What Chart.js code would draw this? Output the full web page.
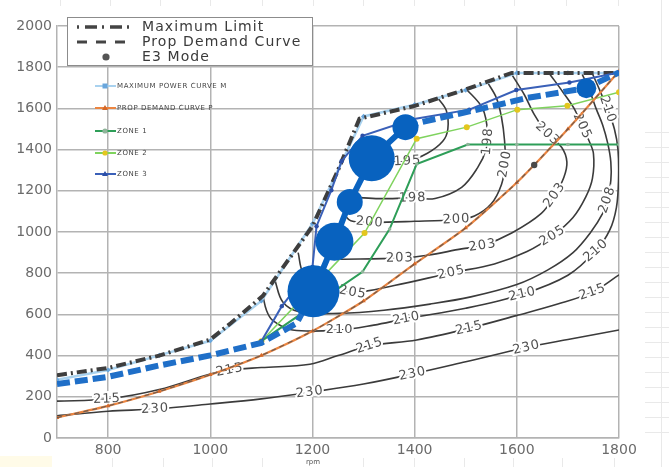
<!DOCTYPE html>
<html>
<head>
<meta charset="utf-8">
<script src="https://cdn.jsdelivr.net/npm/chart.js@4.4.1/dist/chart.umd.min.js"></script>
<style>
  html, body { margin: 0; padding: 0; background: #fff; }
  #wrap { width: 669px; height: 467px; position: relative; }
</style>
</head>
<body>
<div id="wrap"><canvas id="c" width="669" height="467"></canvas></div>
<script>
// Axis ticks
const xTicks = [800, 1000, 1200, 1400, 1600, 1800];
const yTicks = [0, 200, 400, 600, 800, 1000, 1200, 1400, 1600, 1800, 2000];

// Engine limit and demand curves [rpm, kW]
const maxLimit = [[700,305],[800,340],[900,400],[1000,478],[1040,557],[1103,690],[1150,855],[1200,1028],[1250,1300],[1292,1550],[1400,1612],[1500,1692],[1590,1772],[1700,1772],[1800,1772]];
const maxPowerM = [[700,283],[800,330],[900,401],[1000,472],[1100,665],[1200,1040],[1300,1561],[1400,1618],[1500,1689],[1600,1772],[1700,1772],[1800,1772]];
const propDemand = [[700,99],[800,156],[900,226],[1000,307],[1100,401],[1200,519],[1300,665],[1400,845],[1500,1020],[1600,1240],[1700,1500],[1800,1780]];

// Operating zones
const zone1 = [[1100,470],[1200,640],[1298,807],[1351,1014],[1404,1330],[1504,1425],[1600,1425],[1700,1425],[1800,1425]];
const zone2 = [[1100,470],[1200,730],[1302,995],[1404,1453],[1502,1509],[1601,1594],[1699,1613],[1800,1679]];
const zone3 = [[1100,470],[1140,640],[1200,830],[1208,1028],[1237,1203],[1257,1344],[1298,1467],[1396,1547],[1507,1594],[1599,1689],[1703,1726],[1800,1774]];

// Operating line (low and high branches)
const operatingLow = [[700,262],[800,297],[900,352],[1000,401],[1100,462],[1169,557],[1202,712]];
const operatingHigh = [[1382,1509],[1413,1533],[1470,1565],[1523,1594],[1621,1651],[1734,1698],[1800,1774]];

// E3 mode points
const e3Rpm   = [1202, 1243, 1273, 1316, 1382, 1736];
const e3Power = [712, 953, 1146, 1358, 1509, 1698];
const e3Size  = [26, 19, 13, 23, 13, 10];
const e3Marker = [[1634, 1325]];

// BSFC contours [rpm, kW]
const bsfc195 = [[1340,1338],[1386,1344],[1425,1382],[1455,1440],[1465,1500],[1462,1590],[1445,1652]];
const bsfc198 = [[1285,1168],[1330,1162],[1396,1165],[1440,1163],[1492,1217],[1523,1311],[1540,1400],[1543,1480],[1533,1600],[1500,1697]];
const bsfc200 = [[1262,1085],[1275,1055],[1312,1047],[1400,1052],[1482,1061],[1517,1078],[1550,1137],[1570,1231],[1577,1330],[1576,1443],[1570,1557],[1560,1651],[1543,1725]];
const bsfc203 = [[1253,868],[1371,873],[1425,887],[1492,918],[1533,934],[1590,995],[1648,1090],[1674,1179],[1692,1265],[1698,1340],[1688,1410],[1660,1476],[1634,1571],[1615,1665],[1590,1765]];
const bsfc205 = [[1172,900],[1182,800],[1215,735],[1279,707],[1360,740],[1472,802],[1556,845],[1620,905],[1670,981],[1710,1070],[1735,1170],[1748,1260],[1750,1380],[1740,1450],[1728,1514],[1712,1600],[1690,1680],[1665,1765]];
const bsfc208 = [[1126,770],[1142,660],[1175,612],[1253,605],[1340,620],[1430,650],[1510,685],[1600,745],[1660,815],[1710,900],[1745,1000],[1768,1090],[1777,1156],[1784,1250],[1784,1340],[1778,1430],[1768,1520],[1755,1600],[1742,1690],[1728,1765]];
const bsfc210 = [[1103,690],[1110,620],[1122,571],[1161,524],[1253,524],[1320,548],[1384,580],[1500,630],[1611,698],[1700,790],[1755,910],[1782,1010],[1795,1120],[1799,1250],[1798,1400],[1791,1500],[1778,1594],[1762,1690],[1748,1768]];
const bsfc215 = [[700,179],[798,189],[900,235],[1000,311],[1038,330],[1100,342],[1195,358],[1250,400],[1312,448],[1404,476],[1507,533],[1599,594],[1680,650],[1748,708],[1800,792]];
const bsfc230 = [[700,108],[800,130],[892,141],[1000,165],[1100,190],[1195,222],[1300,262],[1396,311],[1500,370],[1619,439],[1700,478],[1800,524]];

// Contour labels [text, rpm, kW]
const contourLabels = [
  ['230',892,141],['230',1195,222],['230',1396,311],['230',1619,439],
  ['215',798,189],['215',1038,330],['215',1312,448],['215',1507,533],['215',1748,708],
  ['210',1253,524],['210',1384,580],['210',1611,698],['210',1755,910],['210',1778,1594],
  ['208',1777,1156],
  ['205',1279,707],['205',1472,802],['205',1670,981],['205',1728,1514],
  ['203',1371,873],['203',1533,934],['203',1674,1179],['203',1660,1476],
  ['200',1312,1047],['200',1482,1061],['200',1577,1330],
  ['198',1396,1165],['198',1543,1440],
  ['195',1386,1344]
];

const pts = a => a.map(p => ({ x: p[0], y: p[1] }));

function contour(level, arr) {
  return {
    level, data: pts(arr), showLine: true, borderColor: '#3b3b3b', borderWidth: 1.6,
    pointRadius: 0, tension: 0.35, fill: false, order: 10
  };
}

const datasets = [
  contour('195', bsfc195), contour('198', bsfc198), contour('200', bsfc200),
  contour('203', bsfc203), contour('205', bsfc205), contour('208', bsfc208),
  contour('210', bsfc210), contour('215', bsfc215), contour('230', bsfc230),
  { data: pts(zone1), showLine: true, borderColor: '#2e9e58', borderWidth: 2, pointRadius: 1.8,
    pointBackgroundColor: '#8fb59a', pointBorderWidth: 0, tension: 0, order: 8 },
  { data: pts(zone2), showLine: true, borderColor: '#7fd35e', borderWidth: 1.5, pointRadius: 3,
    pointBackgroundColor: '#e4c61e', pointBorderWidth: 0, tension: 0, order: 8 },
  { data: pts(propDemand), showLine: true, borderColor: '#ec8540', borderWidth: 2.2, pointRadius: 2.6,
    pointStyle: 'triangle', pointBackgroundColor: '#d4692a', pointBorderWidth: 0, tension: 0.2, order: 7 },
  { data: pts(propDemand), showLine: true, borderColor: 'rgba(80,80,80,0.75)', borderWidth: 1.3,
    borderDash: [5, 4], pointRadius: 0, tension: 0.2, order: 6 },
  { data: pts(maxPowerM), showLine: true, borderColor: '#a9d2ef', borderWidth: 2.5, pointRadius: 2.6,
    pointStyle: 'rectRot', pointBackgroundColor: '#69a6dc', pointBorderWidth: 0, tension: 0, order: 5 },
  { data: pts(maxLimit), showLine: true, borderColor: '#3e3e3e', borderWidth: 4,
    borderDash: [10, 4, 2, 4], pointRadius: 0, tension: 0, order: 4 },
  { data: pts(zone3), showLine: true, borderColor: '#3a60b8', borderWidth: 2, pointRadius: 2.2,
    pointBackgroundColor: '#2c4fa8', pointBorderWidth: 0, tension: 0, order: 3 },
  { data: pts(operatingLow), showLine: true, borderColor: '#1f6fc8', borderWidth: 6,
    borderDash: [13, 5], pointRadius: 0, tension: 0, order: 2 },
  { data: pts(operatingHigh), showLine: true, borderColor: '#1f6fc8', borderWidth: 6,
    borderDash: [13, 5], pointRadius: 0, tension: 0, order: 2 },
  { data: e3Rpm.slice(0, 5).map((x, i) => ({ x, y: e3Power[i] })), showLine: true,
    borderColor: '#0a63c0', borderWidth: 6, pointRadius: 0, tension: 0, order: 1 },
  { type: 'bubble', data: e3Rpm.map((x, i) => ({ x, y: e3Power[i], r: e3Size[i] })),
    backgroundColor: '#0862bf', borderWidth: 0, order: 0 },
  { data: pts(e3Marker), pointRadius: 3.2, pointBackgroundColor: '#4a4a4a', pointBorderWidth: 0, order: 0 }
];

// Rotated value labels along each contour, drawn right after that contour
function drawContourLabels(chart, index) {
  const ds = chart.data.datasets[index];
  const meta = chart.getDatasetMeta(index);
  const sx = chart.scales.x, sy = chart.scales.y;
  const ctx = chart.ctx;
  const P = meta.data.map(e => [e.x, e.y]);
  contourLabels.filter(l => l[0] === ds.level).forEach(([t, vx, vy]) => {
    const px = sx.getPixelForValue(vx), py = sy.getPixelForValue(vy);
    let best = Infinity, ang = 0;
    for (let i = 0; i < P.length - 1; i++) {
      const [x1, y1] = P[i], [x2, y2] = P[i + 1];
      const dx = x2 - x1, dy = y2 - y1;
      const L = dx * dx + dy * dy || 1;
      let u = ((px - x1) * dx + (py - y1) * dy) / L;
      u = Math.max(0, Math.min(1, u));
      const qx = x1 + u * dx - px, qy = y1 + u * dy - py;
      const d = qx * qx + qy * qy;
      if (d < best) { best = d; ang = Math.atan2(dy, dx); }
    }
    if (ang > Math.PI / 2 + 0.01) ang -= Math.PI;
    if (ang < -Math.PI / 2 - 0.01) ang += Math.PI;
    ctx.save();
    ctx.translate(px, py);
    ctx.rotate(ang);
    ctx.font = '13px "DejaVu Sans"';
    if ('letterSpacing' in ctx) ctx.letterSpacing = '1px';
    ctx.textAlign = 'center';
    ctx.textBaseline = 'middle';
    ctx.lineWidth = 4;
    ctx.strokeStyle = '#ffffff';
    ctx.strokeText(t, 0, 0);
    ctx.fillStyle = '#505050';
    ctx.fillText(t, 0, 0);
    ctx.restore();
  });
}

const overlay = {
  id: 'overlay',
  beforeDraw(chart) {
    const ctx = chart.ctx;
    ctx.save();
    // faint marks around the frame
    ctx.strokeStyle = '#e9e9e9';
    ctx.lineWidth = 1;
    for (let y = 132; y <= 442; y += 15) {
      ctx.beginPath(); ctx.moveTo(645, y + 0.5); ctx.lineTo(669, y + 0.5); ctx.stroke();
    }
    ctx.beginPath(); ctx.moveTo(661.5, 0); ctx.lineTo(661.5, 467); ctx.stroke();
    [60, 110, 160, 210, 262, 313, 363, 414, 464, 514, 566, 618].forEach(x => {
      ctx.beginPath(); ctx.moveTo(x + 0.5, 0); ctx.lineTo(x + 0.5, 6); ctx.stroke();
    });
    [112, 163, 212, 262, 363, 414, 464, 513, 562, 614].forEach(x => {
      ctx.beginPath(); ctx.moveTo(x + 0.5, 458); ctx.lineTo(x + 0.5, 467); ctx.stroke();
    });
    ctx.fillStyle = '#fffbe8';
    ctx.fillRect(0, 456, 52, 11);
    ctx.restore();
  },
  afterDatasetDraw(chart, args) {
    const ds = chart.data.datasets[args.index];
    if (ds && ds.level) drawContourLabels(chart, args.index);
  },
  afterDraw(chart) {
    const ctx = chart.ctx;
    ctx.save();
    // boxed legend
    ctx.fillStyle = '#ffffff';
    ctx.fillRect(67, 17, 245, 48);
    ctx.strokeStyle = '#8c8c8c';
    ctx.lineWidth = 1;
    ctx.strokeRect(67.5, 17.5, 245, 48);

    ctx.strokeStyle = '#444';
    ctx.lineWidth = 3.5;
    ctx.setLineDash([2, 6, 12, 5]);
    ctx.beginPath(); ctx.moveTo(77, 27); ctx.lineTo(134, 27); ctx.stroke();
    ctx.lineWidth = 3;
    ctx.setLineDash([10, 9]);
    ctx.beginPath(); ctx.moveTo(77, 42); ctx.lineTo(134, 42); ctx.stroke();
    ctx.setLineDash([]);
    ctx.fillStyle = '#555';
    ctx.beginPath(); ctx.arc(106, 57, 3.6, 0, Math.PI * 2); ctx.fill();

    ctx.font = '14px "DejaVu Sans"';
    if ('letterSpacing' in ctx) ctx.letterSpacing = '1.1px';
    ctx.fillStyle = '#3a3a3a';
    ctx.textBaseline = 'middle';
    ctx.textAlign = 'left';
    ctx.fillText('Maximum Limit', 142, 27);
    ctx.fillText('Prop Demand Curve', 142, 42);
    ctx.fillText('E3 Mode', 142, 57);

    // series legend
    const items = [
      ['MAXIMUM POWER CURVE M', 86, '#a9d2ef', '#69a6dc', 'rect'],
      ['PROP DEMAND CURVE P', 108, '#ec8540', '#d4692a', 'tri'],
      ['ZONE 1', 131, '#2e9e58', '#8fb59a', 'dot'],
      ['ZONE 2', 153, '#7fd35e', '#e4c61e', 'dot'],
      ['ZONE 3', 174, '#3a60b8', '#2c4fa8', 'tri']
    ];
    ctx.font = '7px "DejaVu Sans"';
    if ('letterSpacing' in ctx) ctx.letterSpacing = '0.6px';
    items.forEach(([t, y, lc, mc, shape]) => {
      ctx.strokeStyle = lc;
      ctx.lineWidth = 2;
      ctx.beginPath(); ctx.moveTo(95, y); ctx.lineTo(116, y); ctx.stroke();
      ctx.fillStyle = mc;
      ctx.beginPath();
      if (shape === 'tri') { ctx.moveTo(105, y - 3); ctx.lineTo(108, y + 2); ctx.lineTo(102, y + 2); ctx.closePath(); }
      else if (shape === 'rect') { ctx.rect(102.5, y - 2.5, 5, 5); }
      else { ctx.arc(105, y, 2.6, 0, Math.PI * 2); }
      ctx.fill();
      ctx.fillStyle = '#444';
      ctx.fillText(t, 117, y);
    });

    ctx.font = '7px "DejaVu Sans"';
    if ('letterSpacing' in ctx) ctx.letterSpacing = '0px';
    ctx.fillStyle = '#555';
    ctx.textAlign = 'center';
    ctx.fillText('rpm', 313, 462);
    ctx.restore();
  }
};

Chart.defaults.font.family = '"DejaVu Sans"';

new Chart(document.getElementById('c'), {
  type: 'scatter',
  data: { datasets },
  plugins: [overlay],
  options: {
    responsive: false,
    devicePixelRatio: 1,
    animation: false,
    events: [],
    layout: { padding: { left: 0, right: 50, top: 14, bottom: 0 } },
    plugins: { legend: { display: false }, tooltip: { enabled: false } },
    scales: {
      x: {
        type: 'linear', min: 700, max: 1800,
        afterBuildTicks: s => { s.ticks = xTicks.map(v => ({ value: v })); },
        afterFit: s => { s.height = 29; },
        grid: { color: '#b3b3b3', lineWidth: 1.5, drawTicks: false },
        border: { display: true, color: '#b3b3b3', width: 1.5 },
        ticks: { padding: 4, color: '#6b6b6b', font: { size: 14 }, maxRotation: 0, autoSkip: false,
                 callback: v => String(v) }
      },
      y: {
        type: 'linear', min: 0, max: 2000,
        afterBuildTicks: s => { s.ticks = yTicks.map(v => ({ value: v })); },
        afterFit: s => { s.width = 57; },
        grid: { color: '#b3b3b3', lineWidth: 1.5, drawTicks: false },
        border: { display: true, color: '#b3b3b3', width: 1.5 },
        ticks: { padding: 5, color: '#6b6b6b', font: { size: 14 }, autoSkip: false,
                 callback: v => String(v) }
      }
    }
  }
});
</script>
</body>
</html>
